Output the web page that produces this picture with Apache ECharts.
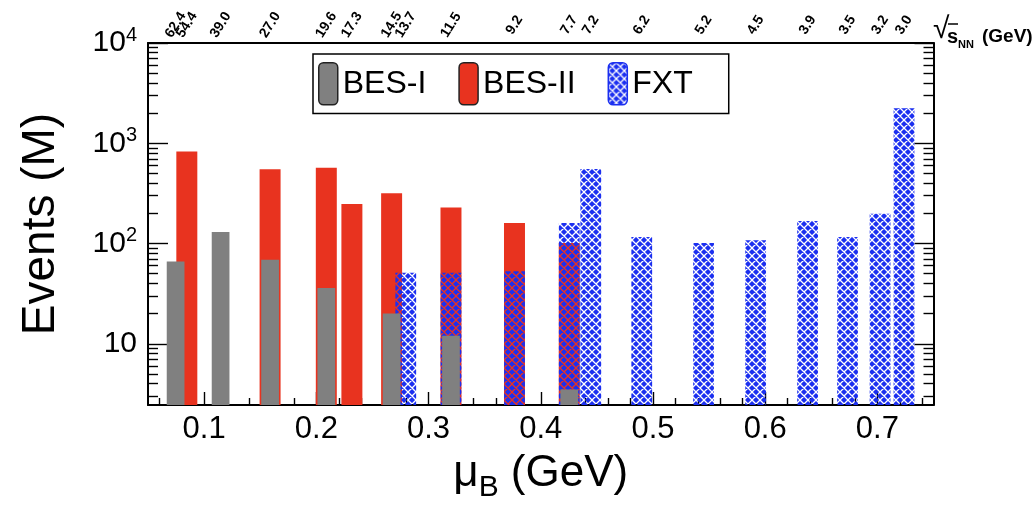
<!DOCTYPE html>
<html><head><meta charset="utf-8">
<script src="https://cdn.jsdelivr.net/npm/echarts@6/dist/echarts.min.js"></script>
<style>html,body{margin:0;padding:0;background:#fff}#c{width:1035px;height:509px}</style>
</head><body><div id="c"></div>
<script>
// ---- data ----
const energies = ['62.4','54.4','39.0','27.0','19.6','17.3','14.5','13.7','11.5','9.2','7.7','7.2','6.2','5.2','4.5','3.9','3.5','3.2','3.0'];
const muB      = [0.0746,0.0846,0.1147,0.1588,0.2089,0.2317,0.2671,0.2797,0.3200,0.3766,0.4254,0.4446,0.4900,0.5451,0.5915,0.6378,0.6734,0.7024,0.7237];

const besIEnergy  = ['62.4','39.0','27.0','19.6','14.5','11.5','7.7'];
const besIEvents  = [66,130,69,36,20,12,3.5];
const besIIEnergy = ['54.4','27.0','19.6','17.3','14.5','11.5','9.2','7.7'];
const besIIEvents = [826,551,571,248,318,228,160,101];
const fxtEnergy   = ['13.7','11.5','9.2','7.7','7.2','6.2','5.2','4.5','3.9','3.5','3.2','3.0'];
const fxtEvents   = [51,51,53,160,555,116,101,108,168,116,198,2234];

const xTicks      = [0.1,0.2,0.3,0.4,0.5,0.6,0.7];
const xTickLabels = ['0.1','0.2','0.3','0.4','0.5','0.6','0.7'];
const xMinorTicks = [0.06,0.08,0.12,0.14,0.16,0.18,0.22,0.24,0.26,0.28,0.32,0.34,0.36,0.38,0.42,0.44,0.46,0.48,0.52,0.54,0.56,0.58,0.62,0.64,0.66,0.68,0.72,0.74];
const yTicks      = [10,100,1000,10000];
const yTickExp    = ['', '2', '3', '4'];
const yMinorTicks = [3,4,5,6,7,8,9,20,30,40,50,60,70,80,90,200,300,400,500,600,700,800,900,2000,3000,4000,5000,6000,7000,8000,9000];

// ---- styles ----
const FONT = '"Liberation Sans", Arial, Helvetica, sans-serif';
const RED = '#e8331f';
const GREY = '#808080';
const BLUE = '#1b2ff0';
const X_MIN = 0.05, X_MAX = 0.75, Y_MIN = 2.45, Y_MAX = 10000;
const TOP_ROT = -58;

function makePatternCanvas() {
  const n = 8;
  const c = document.createElement('canvas');
  c.width = n; c.height = n;
  const g = c.getContext('2d');
  g.fillStyle = BLUE;
  g.fillRect(0, 0, n, n);
  g.globalCompositeOperation = 'destination-out';
  g.lineWidth = 1.3;
  g.beginPath();
  for (let k = -n; k <= n; k += n) {
    g.moveTo(k, 0); g.lineTo(k + n, n);
    g.moveTo(k + n, 0); g.lineTo(k, n);
  }
  g.stroke();
  return c;
}
const FXT_FILL = { image: makePatternCanvas(), repeat: 'repeat' };

function muOf(e) { return muB[energies.indexOf(e)]; }
function energyLabel(v) { const i = muB.findIndex(m => Math.abs(m - v) < 1e-9); return i >= 0 ? energies[i] : ''; }

function makeRender(widthData, fill) {
  return function (params, api) {
    const x = api.value(0), v = api.value(1);
    const top = api.coord([x, v]);
    const base = api.coord([x, Y_MIN]);
    const w = api.size([widthData, 0])[0];
    return {
      type: 'rect',
      shape: { x: top[0] - w / 2, y: top[1], width: w, height: base[1] - top[1] },
      style: { fill: fill }
    };
  };
}

const chart = echarts.init(document.getElementById('c'), null, { renderer: 'canvas' });

function logAxis(pos, len, ticks, showLine, extra) {
  return Object.assign({
    type: 'log', logBase: 10, min: Y_MIN, max: Y_MAX, position: pos,
    axisLine: { show: showLine, onZero: false, lineStyle: { color: '#000', width: 2 } },
    axisTick: { show: true, inside: true, length: len, customValues: ticks, lineStyle: { color: '#000', width: 1.4 } },
    axisLabel: { show: false },
    splitLine: { show: false }, minorTick: { show: false }
  }, extra || {});
}

function topAxis(values, showLine) {
  return {
    type: 'value', min: X_MIN, max: X_MAX, position: 'top',
    axisLine: { show: showLine, onZero: false, lineStyle: { color: '#000', width: 2 } },
    axisTick: { show: false },
    axisLabel: {
      customValues: values, rotate: TOP_ROT, margin: 18, align: 'center', verticalAlign: 'middle',
      fontSize: 14, fontWeight: 'bold', color: '#000', fontFamily: FONT,
      hideOverlap: false, showMinLabel: true, showMaxLabel: true,
      formatter: energyLabel
    },
    splitLine: { show: false }
  };
}

const option = {
  animation: false,
  backgroundColor: '#fff',
  textStyle: { fontFamily: FONT, color: '#000' },
  grid: { left: 148, right: 101.5, top: 43, bottom: 104, containLabel: false, outerBoundsMode: 'none' },
  legend: {
    left: 313, top: 54, orient: 'horizontal',
    itemWidth: 19, itemHeight: 42, itemGap: 32,
    padding: [8, 36, 8, 5],
    borderColor: '#000', borderWidth: 1.5,
    selectedMode: false,
    textStyle: { fontSize: 32, color: '#000', fontFamily: FONT },
    data: [
      { name: 'BES-I', icon: 'roundRect', itemStyle: { color: GREY, borderColor: '#222', borderWidth: 1.5 } },
      { name: 'BES-II', icon: 'roundRect', itemStyle: { color: RED, borderColor: '#222', borderWidth: 1.5 } },
      { name: 'FXT', icon: 'roundRect', itemStyle: { color: FXT_FILL, borderColor: BLUE, borderWidth: 1.5 } }
    ]
  },
  xAxis: [
    {
      type: 'value', min: X_MIN, max: X_MAX, position: 'bottom',
      axisLine: { show: true, onZero: false, lineStyle: { color: '#000', width: 2 } },
      axisTick: { show: true, inside: true, length: 13, customValues: xTicks, lineStyle: { color: '#000', width: 1.4 } },
      axisLabel: {
        customValues: xTicks, margin: 9, fontSize: 31, color: '#000', fontFamily: FONT,
        formatter: function (v) { const i = xTicks.findIndex(t => Math.abs(t - v) < 1e-9); return i >= 0 ? xTickLabels[i] : ''; }
      },
      splitLine: { show: false },
      name: '{mu|μ}{sub|B}{t| (GeV)}', nameLocation: 'middle', nameGap: 40,
      nameTextStyle: {
        color: '#000', fontFamily: FONT,
        rich: {
          mu: { fontSize: 44, fontFamily: FONT, color: '#000' },
          sub: { fontSize: 30, fontFamily: FONT, color: '#000', padding: [28, 0, 0, 0] },
          t: { fontSize: 44, fontFamily: FONT, color: '#000' }
        }
      }
    },
    {
      type: 'value', min: X_MIN, max: X_MAX, position: 'bottom',
      axisLine: { show: false, onZero: false },
      axisTick: { show: true, inside: true, length: 7, customValues: xMinorTicks, lineStyle: { color: '#000', width: 1.4 } },
      axisLabel: { show: false }, splitLine: { show: false }
    },
    topAxis(muB.slice(1), true),
    topAxis(muB.slice(0, 1), false)
  ],
  yAxis: [
    logAxis('left', 20, yTicks, true, {
      axisLabel: {
        show: true, customValues: yTicks, margin: 11, color: '#000', fontFamily: FONT,
        formatter: function (v) {
          const i = yTicks.findIndex(t => Math.abs(t - v) / t < 1e-6);
          if (i < 0) return '';
          return yTickExp[i] ? '{b|10}{sup|' + yTickExp[i] + '}' : '{b|10}';
        },
        rich: {
          b: { fontSize: 30, fontFamily: FONT, color: '#000' },
          sup: { fontSize: 20, fontFamily: FONT, color: '#000', padding: [0, 0, 16, 0] }
        }
      },
      name: 'Events (M)', nameLocation: 'middle', nameGap: 84,
      nameTextStyle: { fontSize: 46, color: '#000', fontFamily: FONT }
    }),
    logAxis('left', 10, yMinorTicks, false),
    logAxis('right', 19, yTicks, true),
    logAxis('right', 10, yMinorTicks, false)
  ],
  graphic: [
    { type: 'text', left: 933, top: 15, style: { text: '√', fontSize: 30, fill: '#000', fontFamily: FONT } },
    { type: 'line', shape: { x1: 948, y1: 24, x2: 958, y2: 24 }, style: { stroke: '#000', lineWidth: 1.5 } },
    { type: 'text', left: 947, top: 27, style: { text: 's', fontSize: 20, fontWeight: 'bold', fill: '#000', fontFamily: FONT } },
    { type: 'text', left: 958, top: 39, style: { text: 'NN', fontSize: 11, fontWeight: 'bold', fill: '#000', fontFamily: FONT } },
    { type: 'text', left: 982, top: 27, style: { text: '(GeV)', fontSize: 19, fontWeight: 'bold', fill: '#000', fontFamily: FONT } }
  ],
  series: [
    {
      name: 'BES-II', type: 'custom', xAxisIndex: 0, yAxisIndex: 0,
      itemStyle: { color: RED },
      renderItem: makeRender(0.0187, RED),
      data: besIIEnergy.map((e, i) => [muOf(e), besIIEvents[i]])
    },
    {
      name: 'FXT', type: 'custom', xAxisIndex: 0, yAxisIndex: 0,
      itemStyle: { color: FXT_FILL },
      renderItem: makeRender(0.0185, FXT_FILL),
      data: fxtEnergy.map((e, i) => [muOf(e), fxtEvents[i]])
    },
    {
      name: 'BES-I', type: 'custom', xAxisIndex: 0, yAxisIndex: 0,
      itemStyle: { color: GREY },
      renderItem: makeRender(0.0158, GREY),
      data: besIEnergy.map((e, i) => [muOf(e), besIEvents[i]])
    }
  ]
};
chart.setOption(option);
</script>
</body></html>
